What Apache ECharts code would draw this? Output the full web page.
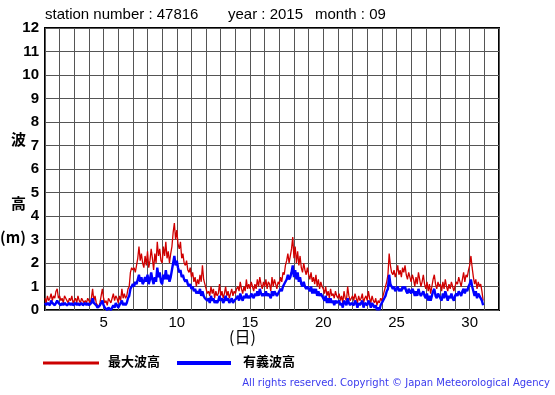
<!DOCTYPE html>
<html><head><meta charset="utf-8">
<script src="https://cdn.jsdelivr.net/npm/echarts@6/dist/echarts.min.js"></script>
<style>html,body{margin:0;padding:0;background:#fff}#c{width:555px;height:395px}</style>
</head><body><div id="c"></div>
<script>
// 2-hourly readings, one row per day (00,02,...,22 h), September 2015
const maxWave = [
0.5,0.3,0.6,0.4,0.5,0.7,0.4,0.6,0.5,0.8,0.9,0.5,
0.6,0.4,0.5,0.3,0.6,0.5,0.4,0.3,0.5,0.4,0.6,0.3,
0.4,0.5,0.3,0.6,0.4,0.3,0.5,0.4,0.3,0.4,0.3,0.5,
0.4,0.3,0.5,0.9,0.4,0.6,0.3,0.2,0.1,0.3,0.6,0.9,
0.5,0.3,0.4,0.2,0.5,0.4,0.3,0.5,0.7,0.4,0.6,0.5,
0.3,0.6,0.4,0.9,0.5,0.7,0.5,0.6,0.9,1.0,1.6,1.8,
1.7,1.8,1.6,1.9,2.2,2.7,2.1,2.4,2.0,1.8,2.3,1.9,
2.5,1.8,2.1,2.6,2.2,1.7,2.4,2.0,2.9,2.3,2.6,2.1,
2.0,2.7,2.3,2.9,2.2,2.5,2.0,2.4,2.7,3.3,3.7,3.0,
3.4,2.8,2.6,2.9,2.2,2.4,2.0,1.9,2.1,1.7,1.6,1.8,
1.4,1.6,1.2,1.4,1.0,1.3,1.1,1.5,1.2,1.9,1.3,1.1,
0.9,0.7,0.8,0.6,1.0,0.7,0.9,0.5,0.8,0.6,0.7,1.1,
0.6,0.8,0.5,0.7,1.0,0.6,0.8,0.5,0.7,0.9,0.6,0.8,
0.7,0.9,1.0,0.8,1.2,0.9,0.7,1.0,0.8,1.3,0.9,1.1,
0.9,1.2,1.0,0.8,1.1,0.9,1.3,1.0,1.4,1.1,0.9,1.2,
1.0,1.3,0.9,1.2,1.1,0.8,1.4,1.0,1.3,1.1,0.9,1.2,
1.1,1.4,1.2,1.6,1.5,1.9,2.1,2.4,2.0,2.3,2.6,3.1,
2.2,2.7,2.0,2.5,1.9,2.3,1.8,1.6,2.0,1.7,1.5,1.8,
1.5,1.3,1.6,1.2,1.4,1.1,1.5,1.0,1.3,0.9,1.2,1.0,
0.9,0.7,1.0,0.6,0.8,0.5,0.9,0.6,0.7,0.5,0.8,0.6,
0.5,0.7,0.4,0.6,0.3,0.8,0.5,0.4,1.0,0.6,0.4,0.5,
0.6,0.4,0.7,0.5,0.3,0.6,0.4,0.5,0.7,0.3,0.5,0.6,
0.4,0.8,0.5,0.3,0.6,0.4,0.3,0.5,0.2,0.4,0.3,0.5,
0.4,0.6,0.8,1.0,1.2,1.5,2.4,1.9,1.6,1.5,1.7,1.4,
1.6,1.9,1.5,1.7,1.4,1.8,1.6,1.9,1.5,1.3,1.6,1.4,
1.2,1.5,1.3,1.0,1.4,1.1,1.6,1.3,1.0,1.2,1.5,1.1,
0.9,1.2,0.8,1.1,0.7,1.0,1.3,1.5,1.1,0.9,1.2,1.0,
1.1,0.8,1.2,0.9,1.3,1.0,0.8,1.1,0.9,1.2,1.0,0.8,
1.0,1.2,1.1,1.4,1.2,1.0,1.3,1.6,1.2,1.5,1.4,1.7,
1.9,2.3,1.8,1.4,1.1,1.3,0.9,1.2,1.0,1.1,0.8,0.4
];
const sigWave = [
0.3,0.2,0.3,0.3,0.2,0.4,0.3,0.3,0.2,0.3,0.4,0.3,
0.3,0.2,0.3,0.2,0.3,0.3,0.2,0.2,0.3,0.2,0.3,0.2,
0.2,0.3,0.2,0.3,0.2,0.2,0.3,0.2,0.2,0.3,0.2,0.3,
0.2,0.2,0.3,0.5,0.3,0.3,0.2,0.1,0.1,0.2,0.3,0.4,
0.2,0.1,0.1,0.0,0.1,0.1,0.0,0.1,0.2,0.1,0.3,0.2,
0.1,0.2,0.2,0.4,0.2,0.3,0.2,0.3,0.5,0.6,0.9,1.0,
1.1,1.0,1.2,1.1,1.3,1.5,1.2,1.4,1.1,1.2,1.4,1.2,
1.5,1.1,1.3,1.6,1.3,1.1,1.4,1.2,1.8,1.4,1.6,1.2,
1.1,1.5,1.3,1.7,1.3,1.5,1.2,1.4,1.7,2.0,2.3,1.9,
2.1,1.8,1.6,1.7,1.4,1.5,1.3,1.2,1.3,1.1,1.0,1.1,
0.9,1.0,0.8,0.9,0.7,0.8,0.7,0.9,0.6,0.8,0.6,0.5,
0.5,0.4,0.5,0.3,0.6,0.4,0.5,0.3,0.4,0.3,0.4,0.6,
0.4,0.5,0.3,0.4,0.6,0.4,0.5,0.3,0.4,0.5,0.3,0.4,
0.4,0.5,0.6,0.4,0.7,0.5,0.4,0.6,0.5,0.7,0.5,0.6,
0.5,0.7,0.6,0.5,0.7,0.6,0.8,0.6,0.9,0.7,0.6,0.7,
0.6,0.8,0.6,0.7,0.7,0.5,0.8,0.6,0.8,0.7,0.6,0.7,
0.7,0.9,0.8,1.0,1.0,1.2,1.3,1.5,1.3,1.4,1.6,1.9,
1.4,1.7,1.3,1.6,1.2,1.4,1.1,1.0,1.2,1.0,0.9,1.0,
0.9,0.8,1.0,0.7,0.9,0.7,0.9,0.6,0.8,0.6,0.7,0.6,
0.5,0.4,0.6,0.3,0.5,0.3,0.5,0.3,0.4,0.2,0.4,0.3,
0.3,0.4,0.2,0.3,0.1,0.4,0.3,0.2,0.5,0.3,0.2,0.3,
0.3,0.2,0.4,0.3,0.1,0.3,0.2,0.3,0.4,0.1,0.3,0.3,
0.2,0.4,0.3,0.1,0.3,0.2,0.1,0.2,0.0,0.1,0.0,0.2,
0.2,0.4,0.5,0.6,0.8,0.9,1.5,1.1,1.0,0.9,1.0,0.8,
0.9,1.0,0.8,0.9,0.8,1.0,0.9,1.0,0.8,0.7,0.9,0.8,
0.7,0.9,0.8,0.6,0.8,0.6,0.9,0.7,0.6,0.7,0.8,0.6,
0.5,0.7,0.4,0.6,0.4,0.6,0.8,0.9,0.6,0.5,0.7,0.6,
0.6,0.4,0.7,0.5,0.8,0.6,0.4,0.6,0.5,0.7,0.5,0.4,
0.6,0.7,0.6,0.8,0.7,0.6,0.8,0.9,0.7,0.9,0.8,1.0,
1.1,1.3,1.0,0.8,0.6,0.8,0.5,0.7,0.6,0.6,0.4,0.2
];
const xTickLabels = [5, 10, 15, 20, 25, 30];
const yTickLabels = [0,1,2,3,4,5,6,7,8,9,10,11,12];
const titleParts = ['station number : 47816', 'year : 2015', 'month : 09'];
const legendNames = ['最大波高', '有義波高'];

const toPairs = arr => arr.map((v, i) => [1 + i * 2 / 24, v]);
const FONT = '"Liberation Sans", Arial, sans-serif';
const CJK = '"Noto Sans CJK JP", sans-serif';
const chart = echarts.init(document.getElementById('c'), null, {renderer: 'canvas'});
chart.setOption({
  animation: false,
  backgroundColor: '#fff',
  grid: {left: 45, top: 28, width: 454, height: 282, show: true, borderColor: '#000', borderWidth: 2, backgroundColor: 'transparent'},
  xAxis: {
    type: 'value', min: 1, max: 32, interval: 1,
    axisLine: {show: false}, axisTick: {show: false},
    splitLine: {show: true, lineStyle: {color: '#555', width: 1}},
    axisLabel: {margin: 5, color: '#000', fontSize: 15, fontFamily: FONT,
      formatter: v => xTickLabels.indexOf(v) >= 0 ? String(v) : ''}
  },
  yAxis: {
    type: 'value', min: 0, max: 12, interval: 1,
    axisLine: {show: false}, axisTick: {show: false},
    splitLine: {show: true, lineStyle: {color: '#555', width: 1}},
    axisLabel: {margin: 6, color: '#000', fontSize: 15, fontWeight: 'bold', fontFamily: FONT,
      formatter: v => yTickLabels.indexOf(v) >= 0 ? String(v) : ''}
  },
  series: [
    {name: legendNames[0], type: 'line', data: toPairs(maxWave), showSymbol: false, symbol: 'none',
     lineStyle: {color: '#d00000', width: 1.3}, z: 2},
    {name: legendNames[1], type: 'line', data: toPairs(sigWave), showSymbol: false, symbol: 'none',
     lineStyle: {color: '#0000ff', width: 2.4}, z: 3}
  ],
  graphic: [
    {type: 'text', left: 45, top: 7, style: {text: titleParts[0], font: '15px ' + FONT, fill: '#000'}},
    {type: 'text', left: 228, top: 7, style: {text: titleParts[1], font: '15px ' + FONT, fill: '#000'}},
    {type: 'text', left: 315, top: 7, style: {text: titleParts[2], font: '15px ' + FONT, fill: '#000'}},
    {type: 'text', left: 11, top: 132, style: {text: '波', font: 'bold 15px ' + CJK, fill: '#000'}},
    {type: 'text', left: 11, top: 196, style: {text: '高', font: 'bold 15px ' + CJK, fill: '#000'}},
    {type: 'text', left: 0, top: 230, style: {text: '(m)', font: 'bold 15px ' + CJK, fill: '#000'}},
    {type: 'text', left: 229, top: 329, style: {text: '(日)', font: '16px ' + CJK, fill: '#000'}},
    {type: 'line', shape: {x1: 43, y1: 363, x2: 99, y2: 363}, style: {stroke: '#cc0000', lineWidth: 3}},
    {type: 'text', left: 108, top: 355, style: {text: legendNames[0], font: 'bold 13px ' + CJK, fill: '#000'}},
    {type: 'line', shape: {x1: 177, y1: 363, x2: 231, y2: 363}, style: {stroke: '#0000ff', lineWidth: 4}},
    {type: 'text', left: 243, top: 355, style: {text: legendNames[1], font: 'bold 13px ' + CJK, fill: '#000'}},
    {type: 'text', right: 5, top: 378, style: {text: 'All rights reserved. Copyright \u00a9 Japan Meteorological Agency', font: '10px "DejaVu Sans", sans-serif', fill: '#3a3aee'}}
  ]
});
</script></body></html>
